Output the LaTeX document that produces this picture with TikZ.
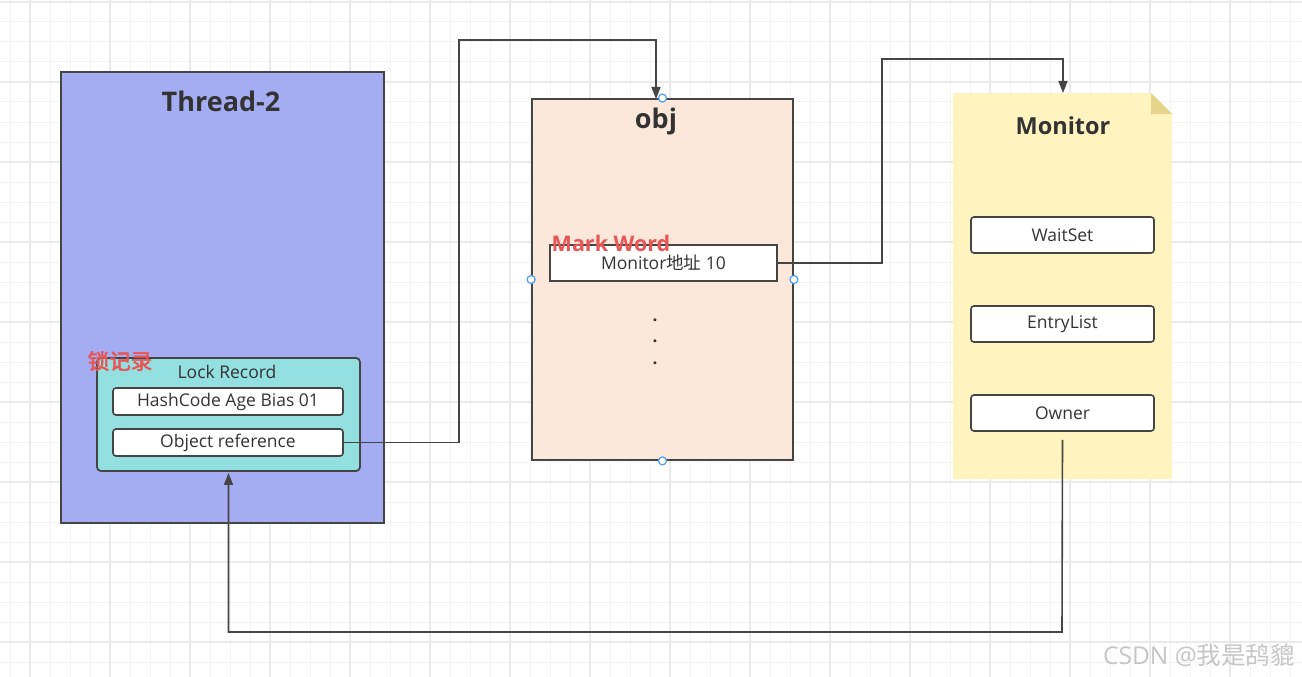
\documentclass[tikz,border=0pt]{standalone}
\usepackage{fontspec}
\setmainfont{Open Sans}
\newfontfamily\cjk{Noto Sans CJK SC}[AutoFakeBold=2.5]
\usetikzlibrary{arrows.meta}
\definecolor{linec}{HTML}{454545}
\definecolor{textc}{HTML}{333333}
\definecolor{gridminor}{HTML}{F4F4F4}
\definecolor{gridmajor}{HTML}{EAEAEA}
\definecolor{threadc}{HTML}{A4ADF2}
\definecolor{lockc}{HTML}{94DFE0}
\definecolor{objc}{HTML}{FBE8DA}
\definecolor{notec}{HTML}{FFF4BF}
\definecolor{foldc}{HTML}{E6D38C}
\definecolor{tagred}{HTML}{E85555}
\definecolor{handlec}{HTML}{4A9EF5}
\begin{document}
\begin{tikzpicture}[x=1pt,y=-1pt,
  every node/.style={text=textc,font=\fontsize{17.5}{20}\selectfont},
  frame/.style={draw=linec,line width=1.8pt,inner sep=0pt},
  slot/.style={draw=linec,line width=1.6pt,fill=white,rounded corners=3pt,minimum width=230pt,minimum height=27pt,inner sep=0pt},
  title/.style={font=\bfseries\fontsize{27}{32}\selectfont},
  tag/.style={text=tagred,font=\bfseries\fontsize{21.5}{25}\selectfont},
  link/.style={draw=linec,line width=1.6pt,-{Triangle[length=12pt,width=9pt]}},
  handle/.style={circle,draw=handlec,fill=white,line width=1.2pt,minimum size=8pt,inner sep=0pt}]
\useasboundingbox (0,0) rectangle (1302,677);
% grid
\fill[white] (0,0) rectangle (1302,677);
\foreach \x in {10,30,...,1300} \draw[gridminor,line width=1pt] (\x,0)--(\x,677);
\foreach \y in {2,22,...,677} \draw[gridminor,line width=1pt] (0,\y)--(1302,\y);
\foreach \x in {30,110,...,1300} \draw[gridmajor,line width=1.5pt] (\x,0)--(\x,677);
\foreach \y in {2,82,...,677} \draw[gridmajor,line width=1.5pt] (0,\y)--(1302,\y);
% Thread-2
\node[frame,fill=threadc,minimum width=323pt,minimum height=451pt] (thread) at (222.5,297.5) {};
\node[title] (threadtitle) at (221,101) {Thread-2};
\node[frame,fill=lockc,rounded corners=4pt,minimum width=263pt,minimum height=113pt] (lock) at (228.5,414.5) {};
\node (locktitle) at (227,372) {Lock Record};
\node[slot] (hash) at (228,401.5) {HashCode Age Bias 01};
\node[slot] (objref) at (228,442.5) {Object reference};
\node[tag] (locktag) at (120,361) {\cjk 锁记录};
% obj
\node[frame,fill=objc,minimum width=261pt,minimum height=361pt] (obj) at (662.5,279.5) {};
\node[title] (objtitle) at (656,121) {obj};
\node[frame,line width=1.6pt,fill=white,minimum width=227pt,minimum height=36pt] (mark) at (663.5,263) {Monitor{\cjk 地址} 10};
\node[tag] (marktag) at (611,243) {Mark Word};
\foreach \k in {0,1,2} \node[anchor=base,font=\bfseries\fontsize{17}{19}\selectfont] (dot\k) at (655,321+21.5*\k) {.};
\foreach \a in {north,west,east,south} \node[handle] (h\a) at (obj.\a) {};
% Monitor
\fill[notec] (953,93) -- (1151,93) -- (1172,114) -- (1172,479) -- (953,479) -- cycle;
\fill[foldc] (1151,93) -- (1151,114) -- (1172,114) -- cycle;
\node[title,font=\bfseries\fontsize{23.5}{28}\selectfont] (montitle) at (1063,126) {Monitor};
\foreach \n/\lbl/\y in {waitset/WaitSet/235,entry/EntryList/324,owner/Owner/413}
  \node[slot,minimum width=183pt,minimum height=36pt] (\n) at (1062.5,\y) {\lbl};
% links
\coordinate (j1) at (459,40);
\coordinate (objin) at (656,99);
\coordinate (j2) at (882,59);
\coordinate (monin) at (1063,93);
\coordinate (j3) at (1062,632);
\draw[link] (objref.east) -| (j1) -| (objin);
\draw[link] (mark.east) -| (j2) -| (monin);
\draw[link,shorten >=1pt] ([yshift=-8pt]owner.south) -- (j3) -| (lock.south);
% watermark
\node[text=gray!45,font=\fontsize{24.5}{28}\selectfont] (mark2) at (1199,655) {CSDN @{\cjk 我是鸹貔}};
\end{tikzpicture}
\end{document}
